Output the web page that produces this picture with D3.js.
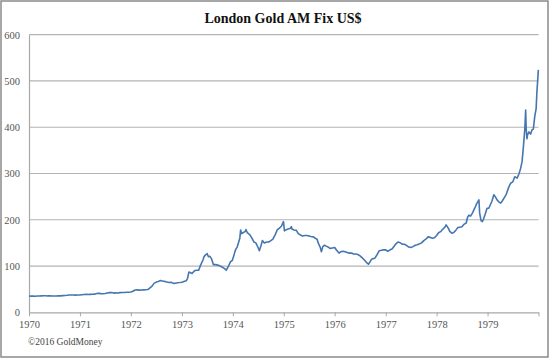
<!DOCTYPE html>
<html><head><meta charset="utf-8">
<script src="https://cdn.jsdelivr.net/npm/d3@7"></script>
<style>body{margin:0;background:#fff}svg{display:block}</style>
</head><body>
<svg id="c" width="550" height="359"></svg>
<script>
const title = "London Gold AM Fix US$";
const credit = "©2016 GoldMoney";
const yTicks = [0,100,200,300,400,500,600];
const xTickYears = [1970,1971,1972,1973,1974,1975,1976,1977,1978,1979,1980];
const xTickLabels = ["1970","1971","1972","1973","1974","1975","1976","1977","1978","1979",""];

const dates = [
"1970-01-02","1970-01-15","1970-02-01","1970-02-15","1970-03-01","1970-03-15","1970-04-01","1970-04-15","1970-05-01","1970-05-15","1970-06-01","1970-06-15","1970-07-01","1970-07-15","1970-08-01","1970-08-15","1970-09-01","1970-09-15","1970-10-01","1970-10-15","1970-11-01","1970-11-15","1970-12-01","1970-12-15",
"1971-01-01","1971-01-15","1971-02-01","1971-02-15","1971-03-01","1971-03-15","1971-04-01","1971-04-15","1971-05-01","1971-05-15","1971-06-01","1971-06-15","1971-07-01","1971-07-15","1971-08-01","1971-08-15","1971-09-01","1971-09-15","1971-10-01","1971-10-15","1971-11-01","1971-11-15","1971-12-01","1971-12-15",
"1972-01-01","1972-01-15","1972-02-01","1972-02-15","1972-03-01","1972-03-15","1972-04-01","1972-04-15","1972-05-01","1972-05-15","1972-06-01","1972-06-15","1972-07-01","1972-07-15","1972-08-01","1972-08-15","1972-09-01","1972-09-15","1972-10-01","1972-10-15","1972-11-01","1972-11-15","1972-12-01","1972-12-15",
"1973-01-01","1973-01-15","1973-02-01","1973-02-10","1973-02-20","1973-03-01","1973-03-15","1973-04-01","1973-04-15","1973-05-01","1973-05-15","1973-06-01","1973-06-10","1973-06-20","1973-07-01","1973-07-10","1973-07-20","1973-08-01","1973-08-15","1973-09-01","1973-09-15","1973-10-01","1973-10-15","1973-11-01","1973-11-15","1973-12-01","1973-12-15","1973-12-28",
"1974-01-08","1974-01-15","1974-01-22","1974-02-01","1974-02-10","1974-02-20","1974-02-26","1974-03-05","1974-03-15","1974-04-01","1974-04-05","1974-04-15","1974-05-01","1974-05-15","1974-06-01","1974-06-15","1974-07-01","1974-07-10","1974-07-20","1974-08-01","1974-08-15","1974-09-01","1974-09-15","1974-10-01","1974-10-15","1974-11-01","1974-11-15","1974-12-01","1974-12-15","1974-12-30",
"1975-01-06","1975-01-15","1975-02-01","1975-02-15","1975-02-25","1975-03-01","1975-03-15","1975-04-01","1975-04-15","1975-05-01","1975-05-15","1975-06-01","1975-06-15","1975-07-01","1975-07-15","1975-08-01","1975-08-15","1975-08-28","1975-09-05","1975-09-20","1975-09-28","1975-10-08","1975-10-20","1975-11-01","1975-11-15","1975-12-01","1975-12-15",
"1976-01-01","1976-01-15","1976-02-01","1976-02-15","1976-03-01","1976-03-15","1976-04-01","1976-04-15","1976-05-01","1976-05-15","1976-06-01","1976-06-15","1976-07-01","1976-07-15","1976-08-01","1976-08-15","1976-08-30","1976-09-10","1976-09-20","1976-10-01","1976-10-15","1976-11-01","1976-11-15","1976-12-01","1976-12-15",
"1977-01-01","1977-01-15","1977-02-01","1977-02-15","1977-03-01","1977-03-15","1977-04-01","1977-04-15","1977-05-01","1977-05-15","1977-06-01","1977-06-15","1977-07-01","1977-07-15","1977-08-01","1977-08-15","1977-09-01","1977-09-15","1977-10-01","1977-10-15","1977-11-01","1977-11-15","1977-12-01","1977-12-15",
"1978-01-01","1978-01-15","1978-02-01","1978-02-15","1978-03-01","1978-03-10","1978-03-25","1978-04-05","1978-04-20","1978-05-01","1978-05-15","1978-06-01","1978-06-15","1978-07-01","1978-07-15","1978-08-01","1978-08-10","1978-08-20","1978-09-01","1978-09-15","1978-10-01","1978-10-15","1978-10-31","1978-11-05","1978-11-15","1978-11-25","1978-12-01","1978-12-15","1978-12-28",
"1979-01-10","1979-01-20","1979-02-01","1979-02-15","1979-02-25","1979-03-10","1979-03-25","1979-04-05","1979-04-15","1979-05-01","1979-05-15","1979-06-01","1979-06-15","1979-07-01","1979-07-15","1979-08-01","1979-08-15","1979-08-25","1979-09-05","1979-09-15","1979-09-25","1979-10-01","1979-10-05","1979-10-10","1979-10-15","1979-10-25","1979-11-05","1979-11-15","1979-11-25","1979-12-05","1979-12-15","1979-12-20","1979-12-31"
];
const prices = [
35.2,34.9,34.9,34.8,35.1,35.3,35.6,35.9,35.9,35.4,35.4,35.3,35.3,35.3,35.4,35.5,36.0,36.2,36.8,37.5,37.5,37.4,37.2,37.4,
37.4,37.9,38.6,38.9,38.4,38.8,38.9,39.2,40.5,40.9,40.3,40.2,40.6,41.6,42.5,42.8,41.5,41.9,41.8,42.5,42.8,42.9,43.2,43.5,
43.8,45.5,48.2,48.5,47.9,48.3,48.5,48.7,49.2,52.5,56.5,62.5,65.3,66.5,68.5,67.5,66.8,65.5,64.5,64.8,62.5,62.8,63.9,64.3,
65.1,66.5,68.0,73,87,86,84,90,91,91,102,113,121,124,127,120,121,116,103,103,102,100,98,95,91,100,109,112,
122,130,136,141,150,160,178,170,172,175,179,172,168,162,152,150,140,133,142,155,150,152,152,155,158,168,178,182,186,196,
176,178,180,181,185,180,178,177,170,167,165,166,166,165,164,163,160,158,150,140,131,142,145,143,141,138,139,
140,134,128,131,132,131,129,128,128,126,126,125,122,118,113,108,104,109,114,116,117,125,133,134,135,
135,132,135,137,142,148,152,150,147,147,144,141,140,142,145,146,148,150,155,158,163,162,160,161,
166,172,175,180,184,189,182,175,171,172,176,183,184,185,190,193,205,210,208,215,225,235,243,215,198,196,200,212,225,
225,232,240,254,250,243,238,236,240,248,255,270,279,282,293,290,300,310,325,358,397,437,395,375,384,390,385,394,396,423,440,473,524
];

const data = dates.map((d,i)=>({date:new Date(d), value:prices[i]}));

const svg = d3.select("#c");
const m = {left:29, right:538.5, top:34.7, bottom:312.3};

svg.append("rect").attr("x",1).attr("y",1).attr("width",547).attr("height",356)
  .attr("fill","#fff").attr("stroke","#8a8a8a").attr("stroke-width",1.5);

const x = d3.scaleTime().domain([new Date(1970,0,1), new Date(1980,0,1)]).range([m.left, m.right]);
const y = d3.scaleLinear().domain([0,600]).range([m.bottom, m.top]);

// gridlines
svg.append("g").selectAll("line").data(yTicks.filter(t=>t>0)).join("line")
  .attr("x1",m.left).attr("x2",m.right)
  .attr("y1",d=>y(d)).attr("y2",d=>y(d))
  .attr("stroke","#b3b3b3").attr("stroke-width",1.2);

// y axis
const yAxis = svg.append("g").attr("transform",`translate(${m.left},0)`)
  .call(d3.axisLeft(y).tickValues(yTicks).tickSize(0).tickPadding(9));
yAxis.select(".domain").attr("stroke","#a8a8a8").attr("stroke-width",1.2);
yAxis.selectAll("text").attr("font-family","'Liberation Serif', serif").attr("font-size","10.5px").attr("fill","#555");

// x axis
const xAxis = svg.append("g").attr("transform",`translate(0,${m.bottom})`)
  .call(d3.axisBottom(x).tickValues(xTickYears.map(yr=>new Date(yr,0,1)))
    .tickFormat((d,i)=>xTickLabels[i]).tickSize(4).tickSizeOuter(0).tickPadding(4));
xAxis.select(".domain").attr("stroke","#a8a8a8").attr("stroke-width",1.2);
xAxis.selectAll(".tick line").attr("stroke","#a8a8a8");
xAxis.selectAll("text").attr("font-family","'Liberation Serif', serif").attr("font-size","10.5px").attr("fill","#555");

// line
const line = d3.line().x(d=>x(d.date)).y(d=>y(d.value));
svg.append("path").datum(data).attr("d",line)
  .attr("fill","none").attr("stroke","#4576b0").attr("stroke-width",1.6).attr("stroke-linejoin","round");

svg.append("text").attr("x",283).attr("y",23).attr("text-anchor","middle")
  .attr("font-family","'Liberation Serif', serif").attr("font-weight","bold").attr("font-size","14px")
  .attr("fill","#111").text(title);

svg.append("text").attr("x",28).attr("y",344.5)
  .attr("font-family","'Liberation Serif', serif").attr("font-size","9.5px").attr("fill","#444").text(credit);
</script>
</body></html>
